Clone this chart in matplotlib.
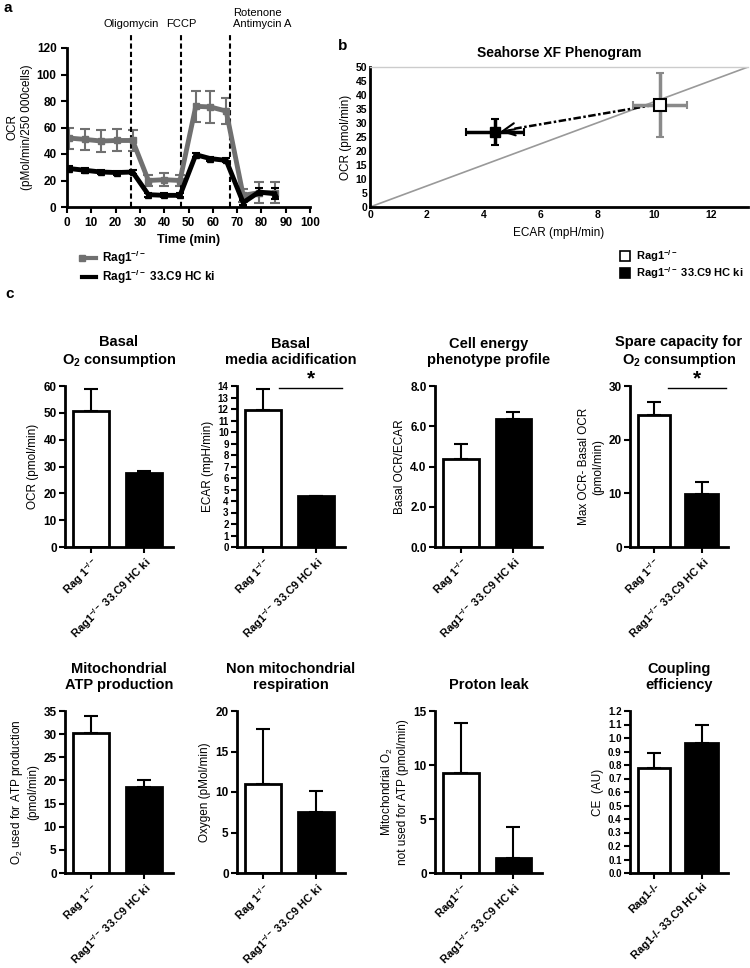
import matplotlib
matplotlib.use('Agg')
import matplotlib.pyplot as plt
from matplotlib.ticker import MultipleLocator, FormatStrFormatter

plt.rcParams['font.family'] = ['Liberation Sans', 'DejaVu Sans']
plt.rcParams['mathtext.default'] = 'regular'

W, H = 750, 968

# ---- panel a: OCR time course ----
time_min = [1, 7.5, 14, 20.5, 27, 33.5, 40, 46.5, 53, 59, 65.5, 72.5, 79, 85.5]
ocr_rag = [52, 51, 49.8, 50.2, 50.2, 20, 20.6, 20, 76, 75.5, 72.4, 8.8, 10.8, 10.8]
ocr_rag_err = [8, 8, 8, 8.3, 8, 4, 5, 4, 11.5, 12, 10, 5, 8, 8]
ocr_ki = [29, 27.7, 26.4, 26, 26.4, 9.3, 8.8, 8.8, 39.5, 36.5, 35.2, 3.3, 11.3, 10]
ocr_ki_err = [2, 2, 1.5, 1.5, 1.5, 1.5, 1.5, 1.5, 1.5, 1.5, 1.5, 2, 3, 4]
injections = [26.5, 47, 67]
injection_names = ['Oligomycin', 'FCCP', 'Rotenone\nAntimycin A']

# ---- panel b: phenogram ----
ecar_pts = [10.22, 4.39]
ocr_pts = [36.5, 26.8]
ecar_err = [0.95, 1.02]
ocr_pt_err = [11.5, 4.6]

# ---- panel c: bar charts ----
groups = ['Rag1$^{-/-}$', 'Rag1$^{-/-}$ 33.C9 HC ki']
panels = [
    dict(title='Basal\nO$_2$ consumption', ylabel='OCR (pmol/min)',
         vals=[50.5, 27.5], errs=[8.5, 1.0], ymax=60, step=10, fmt='%d', tsize=8.5,
         xt=['Rag 1$^{-/-}$', 'Rag1$^{-/-}$ 33.C9 HC ki'], star=False),
    dict(title='Basal\nmedia acidification', ylabel='ECAR (mpH/min)',
         vals=[11.9, 4.4], errs=[1.8, 0.05], ymax=14, step=1, fmt='%d', tsize=7,
         xt=['Rag 1$^{-/-}$', 'Rag1$^{-/-}$ 33.C9 HC ki'], star=True),
    dict(title='Cell energy\nphenotype profile', ylabel='Basal OCR/ECAR',
         vals=[4.35, 6.35], errs=[0.75, 0.35], ymax=8, step=2, fmt='%.1f', tsize=8.5,
         xt=['Rag 1$^{-/-}$', 'Rag1$^{-/-}$ 33.C9 HC ki'], star=False),
    dict(title='Spare capacity for\nO$_2$ consumption', ylabel='Max OCR- Basal OCR\n(pmol/min)',
         vals=[24.6, 9.8], errs=[2.4, 2.3], ymax=30, step=10, fmt='%d', tsize=8.5,
         xt=['Rag 1$^{-/-}$', 'Rag1$^{-/-}$ 33.C9 HC ki'], star=True),
    dict(title='Mitochondrial\nATP production', ylabel='O$_2$ used for ATP production\n(pmol/min)',
         vals=[30.2, 18.6], errs=[3.8, 1.5], ymax=35, step=5, fmt='%d', tsize=8.5,
         xt=['Rag 1$^{-/-}$', 'Rag1$^{-/-}$ 33.C9 HC ki'], star=False),
    dict(title='Non mitochondrial\nrespiration', ylabel='Oxygen (pMol/min)',
         vals=[11.0, 7.5], errs=[6.8, 2.6], ymax=20, step=5, fmt='%d', tsize=8.5,
         xt=['Rag 1$^{-/-}$', 'Rag1$^{-/-}$ 33.C9 HC ki'], star=False),
    dict(title='Proton leak', ylabel='Mitochondrial O$_2$\nnot used for ATP (pmol/min)',
         vals=[9.3, 1.4], errs=[4.6, 2.9], ymax=15, step=5, fmt='%d', tsize=8.5,
         xt=['Rag1$^{-/-}$', 'Rag1$^{-/-}$ 33.C9 HC ki'], star=False),
    dict(title='Coupling\nefficiency', ylabel='CE  (AU)',
         vals=[0.78, 0.96], errs=[0.11, 0.14], ymax=1.2, step=0.1, fmt='%.1f', tsize=7,
         xt=['Rag1-/-', 'Rag1-/- 33.C9 HC ki'], star=False),
]


def box(l, t, r, b):
    return [l / W, 1 - b / H, (r - l) / W, (b - t) / H]


fig = plt.figure(figsize=(W / 100, H / 100), dpi=100)

# panel a
ax = fig.add_axes(box(67, 48, 310, 207))
ax.errorbar(time_min, ocr_rag, yerr=ocr_rag_err, color='#707070', lw=3.5,
            marker='s', ms=5, capsize=3.5, elinewidth=1.5, capthick=1.5)
ax.errorbar(time_min, ocr_ki, yerr=ocr_ki_err, color='black', lw=3.5,
            marker='^', ms=5, capsize=3, elinewidth=1.5, capthick=1.5)
for x, name in zip(injections, injection_names):
    ax.plot([x, x], [0, 132], ls=(0, (2.5, 1.5)), color='black', lw=1.5, clip_on=False)
    ax.text(x + 1.5 if '\n' in name else x, 134, name, ha='left' if '\n' in name else 'center',
            va='bottom', fontsize=8)
ax.set_xlim(0, 100)
ax.set_ylim(0, 120)
ax.xaxis.set_major_locator(MultipleLocator(10))
ax.yaxis.set_major_locator(MultipleLocator(20))
for s in ['top', 'right']:
    ax.spines[s].set_visible(False)
for s in ['left', 'bottom']:
    ax.spines[s].set_linewidth(2)
ax.tick_params(width=1.5, length=4, labelsize=8.5)
for lab in ax.get_xticklabels() + ax.get_yticklabels():
    lab.set_fontweight('bold')
ax.set_xlabel('Time (min)', fontsize=9, fontweight='bold', labelpad=3)
ax.set_ylabel('OCR\n(pMol/min/250 000cells)', fontsize=8.5, labelpad=3)
fig.text(3 / W, 1 - 12 / H, 'a', fontsize=11, fontweight='bold')

# legend a
fig.lines.append(plt.Line2D([82 / W, 96 / W], [1 - 258 / H] * 2, color='#707070', lw=3,
                            marker='s', ms=4, markevery=[0], transform=fig.transFigure))
fig.lines.append(plt.Line2D([82 / W, 96 / W], [1 - 277 / H] * 2, color='black', lw=3,
                            transform=fig.transFigure))
fig.text(102 / W, 1 - 258 / H, groups[0], fontsize=8.5, fontweight='bold', va='center')
fig.text(102 / W, 1 - 277 / H, groups[1], fontsize=8.5, fontweight='bold', va='center')

# panel b
bx = fig.add_axes(box(370, 67, 748, 207))
bx.plot([0, 13.3], [0, 50], color='#999999', lw=1.2)
bx.plot([ecar_pts[0] - 0.2, ecar_pts[1] + 0.6], [ocr_pts[0], ocr_pts[1] + 1.0],
        ls=(0, (3, 1, 1, 1)), color='black', lw=1.8)
bx.annotate('', xy=(ecar_pts[1] + 0.1, ocr_pts[1]), xytext=(ecar_pts[1] + 0.8, ocr_pts[1] + 1.1),
            arrowprops=dict(arrowstyle='->', lw=1.5, color='black', mutation_scale=22))
bx.errorbar(ecar_pts[0], ocr_pts[0], xerr=ecar_err[0], yerr=ocr_pt_err[0], fmt='s',
            mfc='white', mec='black', mew=1.5, ms=8, ecolor='#8a8a8a', elinewidth=2.5,
            capsize=3, capthick=1.5)
bx.errorbar(ecar_pts[1], ocr_pts[1], xerr=ecar_err[1], yerr=ocr_pt_err[1], fmt='s',
            color='black', ms=7, elinewidth=2.5, capsize=3, capthick=1.5)
bx.set_xlim(0, 13.3)
bx.set_ylim(0, 50)
bx.set_xticks(range(0, 13, 2))
bx.yaxis.set_major_locator(MultipleLocator(5))
bx.spines['right'].set_visible(False)
bx.spines['top'].set_color('#cccccc')
bx.spines['top'].set_linewidth(1)
for s in ['left', 'bottom']:
    bx.spines[s].set_linewidth(2)
bx.tick_params(length=0, labelsize=7.5, pad=2)
for lab in bx.get_xticklabels() + bx.get_yticklabels():
    lab.set_fontweight('bold')
bx.set_title('Seahorse XF Phenogram', fontsize=10, fontweight='bold', pad=7)
bx.set_xlabel('ECAR (mpH/min)', fontsize=8.5, labelpad=5)
bx.set_ylabel('OCR (pmol/min)', fontsize=8.5, labelpad=3)
fig.text(338 / W, 1 - 50 / H, 'b', fontsize=11, fontweight='bold')

# legend b
for yy, label, face in [(256, groups[0], 'white'), (273, groups[1], 'black')]:
    fig.patches.append(plt.Rectangle((620 / W, 1 - (yy + 5) / H), 10 / W, 10 / H,
                                     facecolor=face, edgecolor='black', lw=1.2,
                                     transform=fig.transFigure))
    fig.text(636 / W, 1 - yy / H, label, fontsize=8, fontweight='bold', va='center')

# panel c
fig.text(5 / W, 1 - 298 / H, 'c', fontsize=11, fontweight='bold')
cols = [(65, 173), (237, 345), (435, 542), (630, 728)]
rows = [(386, 547), (711, 873)]
for i, p in enumerate(panels):
    l, r = cols[i % 4]
    t, b = rows[i // 4]
    cx = fig.add_axes(box(l, t, r, b))
    cx.bar([0, 1], p['vals'], width=0.68, color=['white', 'black'], edgecolor='black',
           linewidth=2, zorder=2)
    cx.errorbar([0, 1], p['vals'], yerr=[[0, 0], p['errs']], fmt='none', ecolor='black',
                elinewidth=1.5, capsize=5, capthick=1.5, zorder=1)
    cx.set_xlim(-0.5, 1.55)
    cx.set_ylim(0, p['ymax'])
    cx.yaxis.set_major_locator(MultipleLocator(p['step']))
    cx.yaxis.set_major_formatter(FormatStrFormatter(p['fmt']))
    cx.set_xticks([0, 1])
    cx.set_xticklabels(p['xt'], rotation=45, ha='right', rotation_mode='anchor',
                       fontsize=8, fontweight='bold')
    for s in ['top', 'right']:
        cx.spines[s].set_visible(False)
    for s in ['left', 'bottom']:
        cx.spines[s].set_linewidth(2)
    cx.tick_params(width=1.5, length=4, pad=2)
    cx.tick_params(axis='y', labelsize=p['tsize'])
    for lab in cx.get_yticklabels():
        lab.set_fontweight('bold')
    cx.set_ylabel(p['ylabel'], fontsize=8.5, labelpad=3)
    cx.set_title(p['title'], fontsize=10.5, fontweight='bold', pad=16, linespacing=1.15)
    if p['star']:
        ys = p['ymax'] * 0.985
        cx.plot([0.3, 1.5], [ys, ys], color='black', lw=1, clip_on=False)
        cx.text(0.9, ys, '*', ha='center', va='bottom', fontsize=15, fontweight='bold')

fig.savefig('out.png', dpi=100)
